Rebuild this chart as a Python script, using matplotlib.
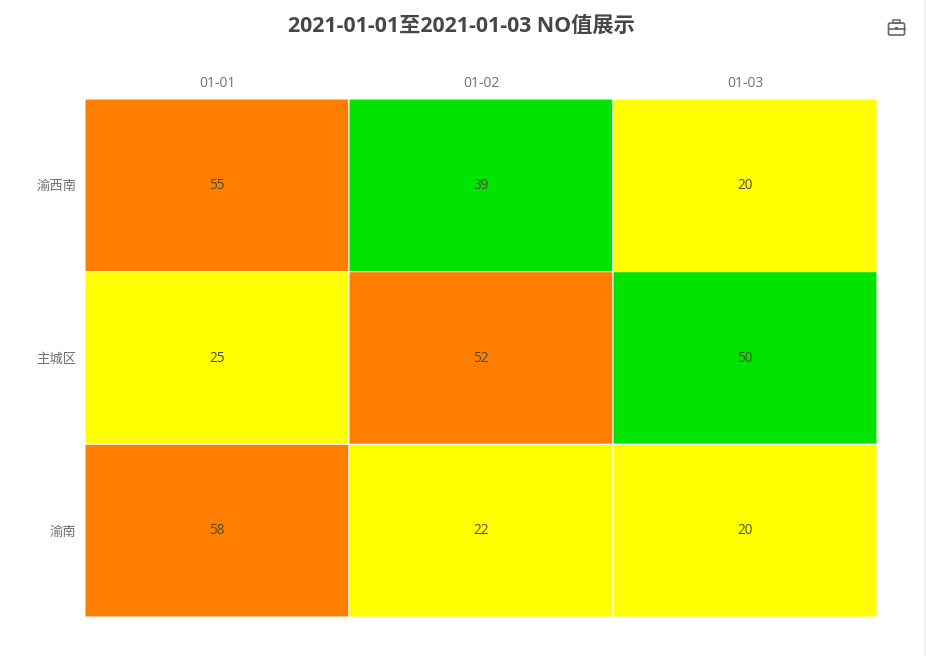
import matplotlib
matplotlib.use("Agg")
import matplotlib.pyplot as plt
from matplotlib.colors import ListedColormap
from matplotlib.patches import FancyBboxPatch, Rectangle
import numpy as np

plt.rcParams['font.family'] = ['Open Sans', 'Noto Sans CJK SC', 'DejaVu Sans']

title = "2021-01-01至2021-01-03 NO值展示"
dates = ["01-01", "01-02", "01-03"]
regions = ["渝西南", "主城区", "渝南"]
values = [[55, 39, 20], [25, 52, 50], [58, 22, 20]]
# colour class of each cell: 0 yellow, 1 green, 2 orange
classes = [[2, 1, 0], [0, 2, 1], [2, 0, 0]]
palette = ["#ffff00", "#00e400", "#ff7e00"]

W, H = 926, 656
fig = plt.figure(figsize=(W / 100, H / 100), dpi=100, facecolor="white")

# page margin strip at right
fig.add_artist(Rectangle((923.5 / W, 0), 2.5 / W, 1, transform=fig.transFigure,
                         facecolor="#f2f2f2", edgecolor="none"))

L, R, T, B = 85, 877, 99, 617
ax = fig.add_axes([L / W, 1 - B / H, (R - L) / W, (B - T) / H])
mesh = ax.pcolormesh(np.array(classes), cmap=ListedColormap(palette), vmin=0, vmax=2,
                     edgecolors="#ffffff", linewidth=0.75, antialiased=True)
mesh.set_snap(False)
mesh.set_clip_on(False)
ax.set_xlim(0, 3)
ax.set_ylim(3, 0)
for s in ax.spines.values():
    s.set_visible(False)
ax.xaxis.tick_top()
ax.set_xticks(np.arange(3) + 0.5, dates)
ax.set_yticks(np.arange(3) + 0.5, regions)
ax.tick_params(length=0, labelsize=9.6, labelcolor="#6e7079")
ax.tick_params(axis="x", pad=6, labelsize=10)
ax.tick_params(axis="y", pad=6)

for r, row in enumerate(values):
    for c, v in enumerate(row):
        ax.text(c + 0.5, r + 0.5, str(v), ha="center", va="center",
                fontsize=9.8, color="#4d4d33")

fig.text(461.5 / W, 1 - 26 / H, title, ha="center", va="center",
         fontsize=15.3, fontweight="bold", color="#464646")

# toolbox icon
ic = "#666666"
fig.add_artist(FancyBboxPatch((888.5 / W, 1 - 35 / H), 16 / W, 12 / H,
                              boxstyle="round,pad=0,rounding_size=0.002",
                              transform=fig.transFigure, facecolor="none",
                              edgecolor=ic, linewidth=1.2))
fig.add_artist(Rectangle((893 / W, 1 - 23 / H), 7 / W, 3 / H, transform=fig.transFigure,
                         facecolor="none", edgecolor=ic, linewidth=1.1))
fig.add_artist(plt.Line2D([888.5 / W, 904.5 / W], [1 - 28.5 / H] * 2,
                          transform=fig.transFigure, color=ic, linewidth=1.2))
fig.add_artist(Rectangle((895 / W, 1 - 30 / H), 3 / W, 3 / H, transform=fig.transFigure,
                         facecolor=ic, edgecolor="none"))

fig.savefig("out.png", dpi=100, facecolor="white")
